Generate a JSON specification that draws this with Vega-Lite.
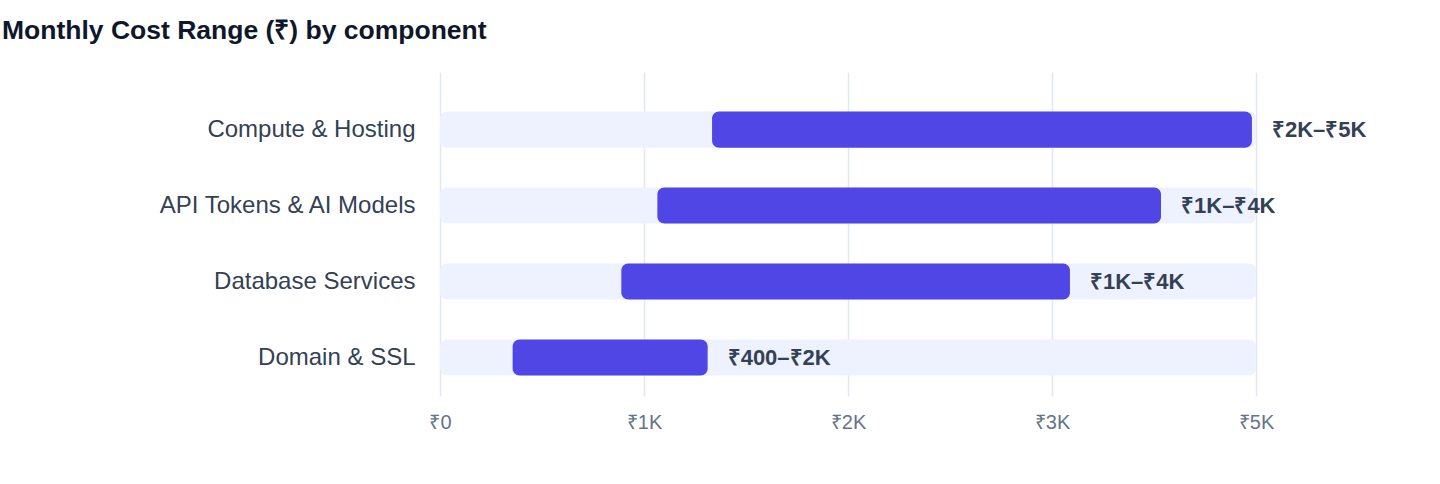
{
  "$schema": "https://vega.github.io/schema/vega-lite/v6.json",
  "width": 816,
  "height": 324,
  "autosize": {"type": "none"},
  "padding": {"left": 440, "top": 72, "right": 184, "bottom": 88},
  "background": "#ffffff",
  "title": {
    "text": "Monthly Cost Range (₹) by component",
    "anchor": "start",
    "frame": "group",
    "dx": -438,
    "dy": 28,
    "offset": 35,
    "baseline": "alphabetic",
    "fontSize": 26.5,
    "fontWeight": "bold",
    "color": "#0f172a"
  },
  "data": {
    "values": [
      {"component": "Compute & Hosting", "low": 1667, "high": 4975, "label": "₹2K–₹5K"},
      {"component": "API Tokens & AI Models", "low": 1332, "high": 4418, "label": "₹1K–₹4K"},
      {"component": "Database Services", "low": 1111, "high": 3860, "label": "₹1K–₹4K"},
      {"component": "Domain & SSL", "low": 445, "high": 1640, "label": "₹400–₹2K"}
    ]
  },
  "encoding": {
    "y": {
      "field": "component",
      "type": "nominal",
      "sort": null,
      "scale": {"paddingInner": 0.526, "paddingOuter": 0.395, "align": 0.66},
      "axis": {
        "title": null,
        "domain": false,
        "ticks": false,
        "labelPadding": 25,
        "labelLimit": 420,
        "labelFontSize": 24,
        "labelColor": "#334155"
      }
    }
  },
  "layer": [
    {
      "mark": {"type": "bar", "color": "#eef2ff", "cornerRadius": 7},
      "encoding": {
        "x": {
          "datum": 0,
          "type": "quantitative",
          "scale": {"domain": [0, 5000], "nice": false},
          "axis": {
            "title": null,
            "values": [0, 1250, 2500, 3750, 5000],
            "labelExpr": "datum.value == 0 ? '₹0' : '₹' + floor(datum.value / 1000) + 'K'",
            "domain": false,
            "ticks": false,
            "grid": true,
            "gridColor": "#e2e8f0",
            "gridWidth": 1.5,
            "labelFlush": false,
            "labelOverlap": false,
            "labelPadding": 16,
            "labelFontSize": 20,
            "labelColor": "#64748b"
          }
        },
        "x2": {"datum": 5000}
      }
    },
    {
      "mark": {"type": "bar", "color": "#4f46e5", "cornerRadius": 7},
      "encoding": {
        "x": {"field": "low", "type": "quantitative"},
        "x2": {"field": "high"}
      }
    },
    {
      "mark": {
        "type": "text",
        "align": "left",
        "baseline": "middle",
        "dx": 20,
        "fontSize": 22,
        "fontWeight": "bold",
        "color": "#334155"
      },
      "encoding": {
        "x": {"field": "high", "type": "quantitative"},
        "text": {"field": "label"}
      }
    }
  ],
  "config": {
    "font": "Liberation Sans",
    "view": {"stroke": null}
  }
}
